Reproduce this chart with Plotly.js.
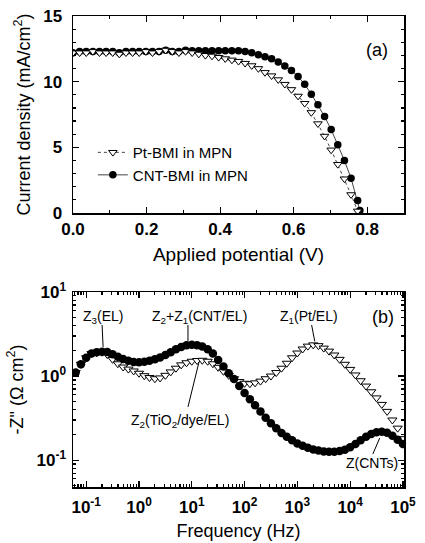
<!DOCTYPE html>
<html><head><meta charset="utf-8">
<script src="https://cdn.plot.ly/plotly-3.0.1.min.js"></script>
<style>html,body{margin:0;padding:0;background:#fff}#chart{width:425px;height:543px}</style>
</head><body><div id="chart"></div>
<script>
// ---- Panel (a): J-V curves ----
const voltagePt = [0,0.018,0.036,0.054,0.072,0.09,0.108,0.126,0.144,0.162,0.18,0.198,0.216,0.234,0.252,0.27,0.288,0.306,0.324,0.342,0.36,0.378,0.396,0.414,0.432,0.45,0.468,0.486,0.504,0.522,0.54,0.558,0.576,0.594,0.612,0.63,0.648,0.666,0.684,0.702,0.72,0.738,0.756,0.774];
const currentPt = [12.2,12.2,12.2,12.3,12.2,12.2,12.2,12.1,12.2,12.2,12.2,12.3,12.2,12.3,12.4,12.3,12.2,12.3,12.2,12.1,12.0,11.95,11.85,11.75,11.65,11.55,11.4,11.22,11.0,10.7,10.45,10.15,9.8,9.4,8.9,8.35,7.65,6.8,5.85,4.8,3.7,2.6,1.4,0.15];
const voltageCnt = [0,0.018,0.036,0.054,0.072,0.09,0.108,0.126,0.144,0.162,0.18,0.198,0.216,0.234,0.252,0.27,0.288,0.306,0.324,0.342,0.36,0.378,0.396,0.414,0.432,0.45,0.468,0.486,0.504,0.522,0.54,0.558,0.576,0.594,0.612,0.63,0.648,0.666,0.684,0.702,0.72,0.738,0.756,0.774,0.78];
const currentCnt = [12.2,12.3,12.3,12.3,12.3,12.3,12.3,12.2,12.3,12.3,12.3,12.3,12.3,12.3,12.4,12.3,12.3,12.4,12.35,12.35,12.35,12.35,12.35,12.35,12.35,12.35,12.3,12.2,12.05,11.9,11.75,11.5,11.2,10.85,10.4,9.8,9.05,8.25,7.35,6.35,5.2,4.0,2.65,0.95,0.2];
const seriesNames = ['Pt-BMI in MPN','CNT-BMI in MPN'];

// ---- Panel (b): impedance spectra ----
const freq = [0.0631,0.0794,0.1,0.126,0.158,0.2,0.251,0.316,0.398,0.501,
  0.631,0.794,1,1.26,1.58,2,2.51,3.16,3.98,5.01,
  6.31,7.94,10,12.6,15.8,20,25.1,31.6,39.8,50.1,
  63.1,79.4,100,126,158,200,251,316,398,501,
  631,794,1000,1260,1580,2000,2510,3160,3980,5010,
  6310,7940,10000,12600,15800,20000,25100,31600,39800,50100,
  63100,79400,100000];
const zCnt = [1.10,1.38,1.65,1.85,1.92,1.95,1.93,1.82,1.70,1.60,
  1.52,1.47,1.46,1.48,1.52,1.58,1.66,1.78,1.92,2.08,
  2.22,2.32,2.36,2.33,2.25,2.08,1.85,1.55,1.30,1.08,
  0.92,0.76,0.63,0.53,0.45,0.38,0.32,0.275,0.24,0.21,
  0.19,0.172,0.158,0.148,0.140,0.134,0.130,0.127,0.126,0.126,
  0.128,0.133,0.142,0.155,0.172,0.19,0.205,0.215,0.218,0.212,
  0.195,0.175,0.155];
const zPt = [1.10,1.38,1.65,1.85,1.90,1.92,1.80,1.58,1.40,1.28,
  1.21,1.15,1.08,1.01,0.96,0.93,0.95,1.02,1.12,1.24,
  1.36,1.44,1.50,1.53,1.54,1.50,1.40,1.27,1.14,1.02,
  0.93,0.86,0.82,0.81,0.83,0.87,0.93,1.00,1.10,1.24,
  1.42,1.65,1.88,2.10,2.27,2.35,2.30,2.15,1.98,1.78,
  1.58,1.38,1.20,1.03,0.88,0.76,0.65,0.55,0.46,0.38,
  0.30,0.24,0.18];
const freqTickVals = [0.1,1,10,100,1000,10000,100000];
const freqTickText = ['10<sup>-1</sup>','10<sup>0</sup>','10<sup>1</sup>','10<sup>2</sup>','10<sup>3</sup>','10<sup>4</sup>','10<sup>5</sup>'];
const zTickVals = [0.1,1,10];
const zTickText = ['10<sup>-1</sup>','10<sup>0</sup>','10<sup>1</sup>'];

// minor log ticks (2..9 in each decade)
function logMinor(dMin, dMax) {
  const v = [];
  for (let d = dMin; d <= dMax; d++) for (let k = 2; k <= 9; k++) v.push(k * Math.pow(10, d));
  return v;
}
const bold = arr => arr.map(t => '<b>' + t + '</b>');

const FONT = 'Liberation Sans, Arial, sans-serif';
const tickFont = {family: FONT, size: 17, color: '#000'};
const titleFont = {family: FONT, size: 18, color: '#000'};

const traces = [
  {x: voltageCnt, y: currentCnt, name: seriesNames[1], xaxis: 'x', yaxis: 'y', mode: 'lines+markers',
   legendrank: 2,
   line: {color: '#444', width: 1},
   marker: {symbol: 'circle', size: 7.5, color: '#000'}},
  {x: voltagePt, y: currentPt, name: seriesNames[0], xaxis: 'x', yaxis: 'y', mode: 'lines+markers',
   legendrank: 1,
   line: {color: '#444', width: 1, dash: 'dot'},
   marker: {symbol: 'triangle-down', size: 7.5, color: '#fff', line: {color: '#000', width: 1}}},
  {x: freq, y: zPt, xaxis: 'x2', yaxis: 'y2', mode: 'markers', showlegend: false,
   marker: {symbol: 'triangle-down', size: 8, color: '#fff', line: {color: '#000', width: 1}}},
  {x: freq, y: zCnt, xaxis: 'x2', yaxis: 'y2', mode: 'markers', showlegend: false,
   marker: {symbol: 'circle', size: 8.5, color: '#000'}}
];

const axBase = {
  showline: true, linecolor: '#000', linewidth: 1.5, mirror: 'allticks',
  ticks: 'inside', ticklen: 6, tickwidth: 1.2, tickcolor: '#000',
  showgrid: false, zeroline: false, tickfont: tickFont
};

const ann = (text, x, y, ref, extra) => Object.assign({text: text, x: x, y: y, xref: ref[0], yref: ref[1],
  xanchor: 'center', yanchor: 'middle',
  showarrow: false, font: {family: FONT, size: 14, color: '#000'}}, extra || {});

const layout = {
  width: 425, height: 543,
  margin: {l: 73, r: 21, t: 16, b: 56},
  paper_bgcolor: '#fff', plot_bgcolor: '#fff',
  showlegend: true,
  legend: {x: 0.06, y: 0.745, xanchor: 'left', yanchor: 'top', bgcolor: 'rgba(0,0,0,0)',
    font: {family: FONT, size: 15, color: '#000'}, tracegroupgap: 0, itemwidth: 30},
  xaxis: Object.assign({}, axBase, {domain: [0, 1], anchor: 'y', range: [0, 0.9], tick0: 0, dtick: 0.2,
    tickformat: '.1f', tickprefix: '<b>', ticksuffix: '</b>',
    minor: {dtick: 0.1, ticks: 'inside', ticklen: 3, tickcolor: '#000'},
    title: {text: 'Applied potential (V)', font: {family: FONT, size: 19, color: '#000'}, standoff: 10}}),
  yaxis: Object.assign({}, axBase, {domain: [0.5817, 1], anchor: 'x', range: [0, 15], tick0: 0, dtick: 5,
    tickprefix: '<b>', ticksuffix: '</b>',
    minor: {dtick: 1, ticks: 'inside', ticklen: 3, tickcolor: '#000'}, ticklabelstandoff: 6,
    title: {text: 'Current density (mA/cm<sup>2</sup>)', font: titleFont, standoff: 8}}),
  xaxis2: Object.assign({}, axBase, {domain: [0, 1], anchor: 'y2', type: 'log', range: [-1.25, 5.02],
    tickmode: 'array', tickvals: freqTickVals, ticktext: bold(freqTickText),
    minor: {tickmode: 'array', tickvals: logMinor(-2, 4), ticks: 'inside', ticklen: 3, tickcolor: '#000'},
    ticklabelstandoff: 4,
    title: {text: 'Frequency (Hz)', font: titleFont, standoff: 8}}),
  yaxis2: Object.assign({}, axBase, {domain: [0, 0.414], anchor: 'x2', type: 'log', range: [-1.32, 1],
    tickmode: 'array', tickvals: zTickVals, ticktext: bold(zTickText),
    minor: {tickmode: 'array', tickvals: logMinor(-2, 0), ticks: 'inside', ticklen: 3, tickcolor: '#000'},
    ticklabelstandoff: 2,
    title: {text: '-Z" (Ω cm<sup>2</sup>)', font: titleFont, standoff: 8}}),
  annotations: [
    ann('(a)', 0.917, 0.928, ['paper', 'paper'], {font: {family: FONT, size: 18, color: '#000'}}),
    ann('(b)', 0.937, 0.361, ['paper', 'paper'], {font: {family: FONT, size: 18, color: '#000'}}),
    ann('Z<sub>3</sub>(EL)', -0.682, 0.703, ['x2', 'y2']),
    ann('Z<sub>2</sub>+Z<sub>1</sub>(CNT/EL)', 1.155, 0.703, ['x2', 'y2']),
    ann('Z<sub>1</sub>(Pt/EL)', 3.22, 0.703, ['x2', 'y2']),
    ann('Z<sub>2</sub>(TiO<sub>2</sub>/dye/EL)', 0.777, -0.535, ['x2', 'y2']),
    ann('Z(CNTs)', 4.413, -1.034, ['x2', 'y2'])
  ],
  shapes: [
    {type: 'line', xref: 'x2', yref: 'y2', x0: 0.2, y0: 4.05, x1: 0.209, y1: 2.22, line: {color: '#000', width: 1}},
    {type: 'line', xref: 'x2', yref: 'y2', x0: 8.47, y0: 4.05, x1: 8.47, y1: 2.61, line: {color: '#000', width: 1}},
    {type: 'line', xref: 'x2', yref: 'y2', x0: 1862, y0: 4.05, x1: 2138, y1: 2.58, line: {color: '#000', width: 1}},
    {type: 'line', xref: 'x2', yref: 'y2', x0: 8.47, y0: 0.43, x1: 13.7, y1: 1.47, line: {color: '#000', width: 1}},
    {type: 'line', xref: 'x2', yref: 'y2', x0: 26900, y0: 0.118, x1: 36300, y1: 0.183, line: {color: '#000', width: 1}}
  ]
};

Plotly.newPlot('chart', traces, layout, {displayModeBar: false, staticPlot: true});
</script>
</body></html>
